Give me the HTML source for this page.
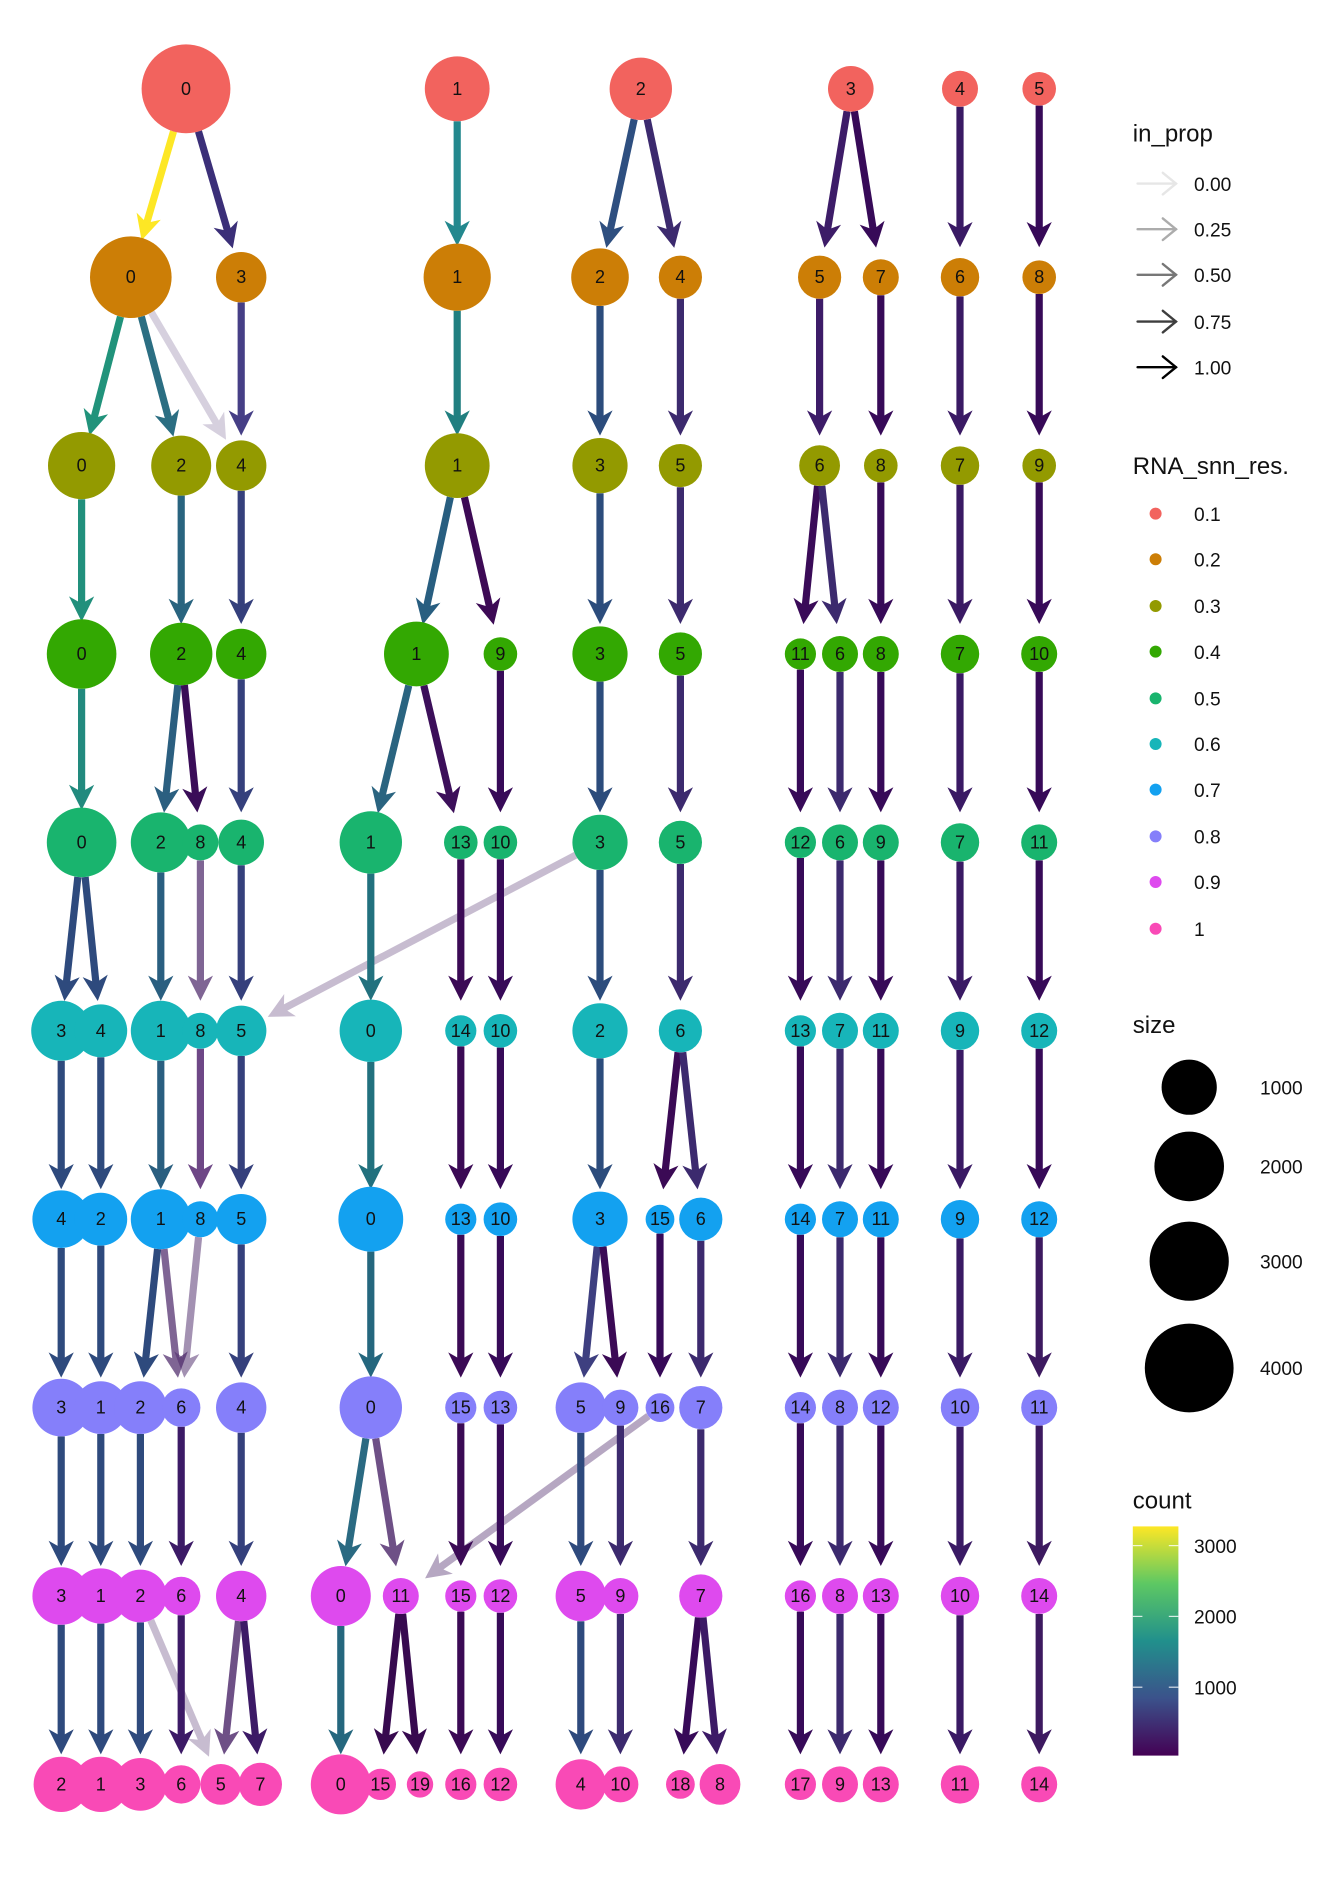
<!DOCTYPE html>
<html><head><meta charset="utf-8"><style>
html,body{margin:0;padding:0;background:#fff;}
svg{display:block;}
text{font-family:"Liberation Sans",Arial,sans-serif;}
#N text{font-size:15px;text-anchor:middle;dominant-baseline:central;fill:#111;}
.c0{fill:#F2635E}.c1{fill:#CC7E06}.c2{fill:#939A00}.c3{fill:#33A802}.c4{fill:#19B46E}
.c5{fill:#17B5B9}.c6{fill:#13A1F0}.c7{fill:#857FFA}.c8{fill:#DE4AEE}.c9{fill:#F94AB6}
.lg{font-size:16px;fill:#111;}
.lt{font-size:20px;fill:#111;}
</style></head><body>
<svg width="1344" height="1881" viewBox="0 0 1120 1567.5" xmlns="http://www.w3.org/2000/svg">
<defs>
<linearGradient id="vir" x1="0" y1="1" x2="0" y2="0">
<stop offset="0" stop-color="#440154"/><stop offset="0.25" stop-color="#3b528b"/>
<stop offset="0.5" stop-color="#21908c"/><stop offset="0.75" stop-color="#5dc863"/>
<stop offset="1" stop-color="#fde725"/></linearGradient>
</defs>
<g id="E"></g>
<g id="N">
<circle id="n0_0" class="c0" cx="155" cy="74" r="37"/><text x="155" y="74">0</text>
<circle id="n0_1" class="c0" cx="381" cy="74" r="27"/><text x="381" y="74">1</text>
<circle id="n0_2" class="c0" cx="534" cy="74" r="26"/><text x="534" y="74">2</text>
<circle id="n0_3" class="c0" cx="709" cy="74" r="19"/><text x="709" y="74">3</text>
<circle id="n0_4" class="c0" cx="800" cy="74" r="15"/><text x="800" y="74">4</text>
<circle id="n0_5" class="c0" cx="866" cy="74" r="14"/><text x="866" y="74">5</text>
<circle id="n1_0" class="c1" cx="109" cy="231" r="34"/><text x="109" y="231">0</text>
<circle id="n1_3" class="c1" cx="201" cy="231" r="21"/><text x="201" y="231">3</text>
<circle id="n1_1" class="c1" cx="381" cy="231" r="28"/><text x="381" y="231">1</text>
<circle id="n1_2" class="c1" cx="500" cy="231" r="24"/><text x="500" y="231">2</text>
<circle id="n1_4" class="c1" cx="567" cy="231" r="18"/><text x="567" y="231">4</text>
<circle id="n1_5" class="c1" cx="683" cy="231" r="18"/><text x="683" y="231">5</text>
<circle id="n1_7" class="c1" cx="734" cy="231" r="15"/><text x="734" y="231">7</text>
<circle id="n1_6" class="c1" cx="800" cy="231" r="16"/><text x="800" y="231">6</text>
<circle id="n1_8" class="c1" cx="866" cy="231" r="14"/><text x="866" y="231">8</text>
<circle id="n2_0" class="c2" cx="68" cy="388" r="28"/><text x="68" y="388">0</text>
<circle id="n2_2" class="c2" cx="151" cy="388" r="25"/><text x="151" y="388">2</text>
<circle id="n2_4" class="c2" cx="201" cy="388" r="21"/><text x="201" y="388">4</text>
<circle id="n2_1" class="c2" cx="381" cy="388" r="27"/><text x="381" y="388">1</text>
<circle id="n2_3" class="c2" cx="500" cy="388" r="23"/><text x="500" y="388">3</text>
<circle id="n2_5" class="c2" cx="567" cy="388" r="18"/><text x="567" y="388">5</text>
<circle id="n2_6" class="c2" cx="683" cy="388" r="17"/><text x="683" y="388">6</text>
<circle id="n2_8" class="c2" cx="734" cy="388" r="14"/><text x="734" y="388">8</text>
<circle id="n2_7" class="c2" cx="800" cy="388" r="16"/><text x="800" y="388">7</text>
<circle id="n2_9" class="c2" cx="866" cy="388" r="14"/><text x="866" y="388">9</text>
<circle id="n3_0" class="c3" cx="68" cy="545" r="29"/><text x="68" y="545">0</text>
<circle id="n3_2" class="c3" cx="151" cy="545" r="26"/><text x="151" y="545">2</text>
<circle id="n3_4" class="c3" cx="201" cy="545" r="21"/><text x="201" y="545">4</text>
<circle id="n3_1" class="c3" cx="347" cy="545" r="27"/><text x="347" y="545">1</text>
<circle id="n3_9" class="c3" cx="417" cy="545" r="14"/><text x="417" y="545">9</text>
<circle id="n3_3" class="c3" cx="500" cy="545" r="23"/><text x="500" y="545">3</text>
<circle id="n3_5" class="c3" cx="567" cy="545" r="18"/><text x="567" y="545">5</text>
<circle id="n3_11" class="c3" cx="667" cy="545" r="13"/><text x="667" y="545">11</text>
<circle id="n3_6" class="c3" cx="700" cy="545" r="15"/><text x="700" y="545">6</text>
<circle id="n3_8" class="c3" cx="734" cy="545" r="15"/><text x="734" y="545">8</text>
<circle id="n3_7" class="c3" cx="800" cy="545" r="16"/><text x="800" y="545">7</text>
<circle id="n3_10" class="c3" cx="866" cy="545" r="15"/><text x="866" y="545">10</text>
<circle id="n4_0" class="c4" cx="68" cy="702" r="29"/><text x="68" y="702">0</text>
<circle id="n4_2" class="c4" cx="134" cy="702" r="25"/><text x="134" y="702">2</text>
<circle id="n4_8" class="c4" cx="167" cy="702" r="15"/><text x="167" y="702">8</text>
<circle id="n4_4" class="c4" cx="201" cy="702" r="19"/><text x="201" y="702">4</text>
<circle id="n4_1" class="c4" cx="309" cy="702" r="26"/><text x="309" y="702">1</text>
<circle id="n4_13" class="c4" cx="384" cy="702" r="14"/><text x="384" y="702">13</text>
<circle id="n4_10" class="c4" cx="417" cy="702" r="14"/><text x="417" y="702">10</text>
<circle id="n4_3" class="c4" cx="500" cy="702" r="23"/><text x="500" y="702">3</text>
<circle id="n4_5" class="c4" cx="567" cy="702" r="18"/><text x="567" y="702">5</text>
<circle id="n4_12" class="c4" cx="667" cy="702" r="13"/><text x="667" y="702">12</text>
<circle id="n4_6" class="c4" cx="700" cy="702" r="15"/><text x="700" y="702">6</text>
<circle id="n4_9" class="c4" cx="734" cy="702" r="15"/><text x="734" y="702">9</text>
<circle id="n4_7" class="c4" cx="800" cy="702" r="16"/><text x="800" y="702">7</text>
<circle id="n4_11" class="c4" cx="866" cy="702" r="15"/><text x="866" y="702">11</text>
<circle id="n5_3" class="c5" cx="51" cy="859" r="25"/><text x="51" y="859">3</text>
<circle id="n5_4" class="c5" cx="84" cy="859" r="22"/><text x="84" y="859">4</text>
<circle id="n5_1" class="c5" cx="134" cy="859" r="25"/><text x="134" y="859">1</text>
<circle id="n5_8" class="c5" cx="167" cy="859" r="15"/><text x="167" y="859">8</text>
<circle id="n5_5" class="c5" cx="201" cy="859" r="21"/><text x="201" y="859">5</text>
<circle id="n5_0" class="c5" cx="309" cy="859" r="26"/><text x="309" y="859">0</text>
<circle id="n5_14" class="c5" cx="384" cy="859" r="13"/><text x="384" y="859">14</text>
<circle id="n5_10" class="c5" cx="417" cy="859" r="14"/><text x="417" y="859">10</text>
<circle id="n5_2" class="c5" cx="500" cy="859" r="23"/><text x="500" y="859">2</text>
<circle id="n5_6" class="c5" cx="567" cy="859" r="18"/><text x="567" y="859">6</text>
<circle id="n5_13" class="c5" cx="667" cy="859" r="13"/><text x="667" y="859">13</text>
<circle id="n5_7" class="c5" cx="700" cy="859" r="15"/><text x="700" y="859">7</text>
<circle id="n5_11" class="c5" cx="734" cy="859" r="15"/><text x="734" y="859">11</text>
<circle id="n5_9" class="c5" cx="800" cy="859" r="16"/><text x="800" y="859">9</text>
<circle id="n5_12" class="c5" cx="866" cy="859" r="15"/><text x="866" y="859">12</text>
<circle id="n6_4" class="c6" cx="51" cy="1016" r="24"/><text x="51" y="1016">4</text>
<circle id="n6_2" class="c6" cx="84" cy="1016" r="22"/><text x="84" y="1016">2</text>
<circle id="n6_1" class="c6" cx="134" cy="1016" r="25"/><text x="134" y="1016">1</text>
<circle id="n6_8" class="c6" cx="167" cy="1016" r="15"/><text x="167" y="1016">8</text>
<circle id="n6_5" class="c6" cx="201" cy="1016" r="21"/><text x="201" y="1016">5</text>
<circle id="n6_0" class="c6" cx="309" cy="1016" r="27"/><text x="309" y="1016">0</text>
<circle id="n6_13" class="c6" cx="384" cy="1016" r="13"/><text x="384" y="1016">13</text>
<circle id="n6_10" class="c6" cx="417" cy="1016" r="14"/><text x="417" y="1016">10</text>
<circle id="n6_3" class="c6" cx="500" cy="1016" r="23"/><text x="500" y="1016">3</text>
<circle id="n6_15" class="c6" cx="550" cy="1016" r="12"/><text x="550" y="1016">15</text>
<circle id="n6_6" class="c6" cx="584" cy="1016" r="18"/><text x="584" y="1016">6</text>
<circle id="n6_14" class="c6" cx="667" cy="1016" r="13"/><text x="667" y="1016">14</text>
<circle id="n6_7" class="c6" cx="700" cy="1016" r="15"/><text x="700" y="1016">7</text>
<circle id="n6_11" class="c6" cx="734" cy="1016" r="15"/><text x="734" y="1016">11</text>
<circle id="n6_9" class="c6" cx="800" cy="1016" r="16"/><text x="800" y="1016">9</text>
<circle id="n6_12" class="c6" cx="866" cy="1016" r="15"/><text x="866" y="1016">12</text>
<circle id="n7_3" class="c7" cx="51" cy="1173" r="24"/><text x="51" y="1173">3</text>
<circle id="n7_1" class="c7" cx="84" cy="1173" r="22"/><text x="84" y="1173">1</text>
<circle id="n7_2" class="c7" cx="117" cy="1173" r="22"/><text x="117" y="1173">2</text>
<circle id="n7_6" class="c7" cx="151" cy="1173" r="16"/><text x="151" y="1173">6</text>
<circle id="n7_4" class="c7" cx="201" cy="1173" r="21"/><text x="201" y="1173">4</text>
<circle id="n7_0" class="c7" cx="309" cy="1173" r="26"/><text x="309" y="1173">0</text>
<circle id="n7_15" class="c7" cx="384" cy="1173" r="13"/><text x="384" y="1173">15</text>
<circle id="n7_13" class="c7" cx="417" cy="1173" r="14"/><text x="417" y="1173">13</text>
<circle id="n7_5" class="c7" cx="484" cy="1173" r="21"/><text x="484" y="1173">5</text>
<circle id="n7_9" class="c7" cx="517" cy="1173" r="15"/><text x="517" y="1173">9</text>
<circle id="n7_16" class="c7" cx="550" cy="1173" r="12"/><text x="550" y="1173">16</text>
<circle id="n7_7" class="c7" cx="584" cy="1173" r="18"/><text x="584" y="1173">7</text>
<circle id="n7_14" class="c7" cx="667" cy="1173" r="13"/><text x="667" y="1173">14</text>
<circle id="n7_8" class="c7" cx="700" cy="1173" r="15"/><text x="700" y="1173">8</text>
<circle id="n7_12" class="c7" cx="734" cy="1173" r="15"/><text x="734" y="1173">12</text>
<circle id="n7_10" class="c7" cx="800" cy="1173" r="16"/><text x="800" y="1173">10</text>
<circle id="n7_11" class="c7" cx="866" cy="1173" r="15"/><text x="866" y="1173">11</text>
<circle id="n8_3" class="c8" cx="51" cy="1330" r="24"/><text x="51" y="1330">3</text>
<circle id="n8_1" class="c8" cx="84" cy="1330" r="23"/><text x="84" y="1330">1</text>
<circle id="n8_2" class="c8" cx="117" cy="1330" r="22"/><text x="117" y="1330">2</text>
<circle id="n8_6" class="c8" cx="151" cy="1330" r="16"/><text x="151" y="1330">6</text>
<circle id="n8_4" class="c8" cx="201" cy="1330" r="21"/><text x="201" y="1330">4</text>
<circle id="n8_0" class="c8" cx="284" cy="1330" r="25"/><text x="284" y="1330">0</text>
<circle id="n8_11" class="c8" cx="334" cy="1330" r="15"/><text x="334" y="1330">11</text>
<circle id="n8_15" class="c8" cx="384" cy="1330" r="13"/><text x="384" y="1330">15</text>
<circle id="n8_12" class="c8" cx="417" cy="1330" r="14"/><text x="417" y="1330">12</text>
<circle id="n8_5" class="c8" cx="484" cy="1330" r="21"/><text x="484" y="1330">5</text>
<circle id="n8_9" class="c8" cx="517" cy="1330" r="15"/><text x="517" y="1330">9</text>
<circle id="n8_7" class="c8" cx="584" cy="1330" r="18"/><text x="584" y="1330">7</text>
<circle id="n8_16" class="c8" cx="667" cy="1330" r="13"/><text x="667" y="1330">16</text>
<circle id="n8_8" class="c8" cx="700" cy="1330" r="15"/><text x="700" y="1330">8</text>
<circle id="n8_13" class="c8" cx="734" cy="1330" r="15"/><text x="734" y="1330">13</text>
<circle id="n8_10" class="c8" cx="800" cy="1330" r="16"/><text x="800" y="1330">10</text>
<circle id="n8_14" class="c8" cx="866" cy="1330" r="15"/><text x="866" y="1330">14</text>
<circle id="n9_2" class="c9" cx="51" cy="1487" r="23"/><text x="51" y="1487">2</text>
<circle id="n9_1" class="c9" cx="84" cy="1487" r="23"/><text x="84" y="1487">1</text>
<circle id="n9_3" class="c9" cx="117" cy="1487" r="22"/><text x="117" y="1487">3</text>
<circle id="n9_6" class="c9" cx="151" cy="1487" r="16"/><text x="151" y="1487">6</text>
<circle id="n9_5" class="c9" cx="184" cy="1487" r="17"/><text x="184" y="1487">5</text>
<circle id="n9_7" class="c9" cx="217" cy="1487" r="18"/><text x="217" y="1487">7</text>
<circle id="n9_0" class="c9" cx="284" cy="1487" r="25"/><text x="284" y="1487">0</text>
<circle id="n9_15" class="c9" cx="317" cy="1487" r="13"/><text x="317" y="1487">15</text>
<circle id="n9_19" class="c9" cx="350" cy="1487" r="11"/><text x="350" y="1487">19</text>
<circle id="n9_16" class="c9" cx="384" cy="1487" r="13"/><text x="384" y="1487">16</text>
<circle id="n9_12" class="c9" cx="417" cy="1487" r="14"/><text x="417" y="1487">12</text>
<circle id="n9_4" class="c9" cx="484" cy="1487" r="21"/><text x="484" y="1487">4</text>
<circle id="n9_10" class="c9" cx="517" cy="1487" r="15"/><text x="517" y="1487">10</text>
<circle id="n9_18" class="c9" cx="567" cy="1487" r="12"/><text x="567" y="1487">18</text>
<circle id="n9_8" class="c9" cx="600" cy="1487" r="17"/><text x="600" y="1487">8</text>
<circle id="n9_17" class="c9" cx="667" cy="1487" r="13"/><text x="667" y="1487">17</text>
<circle id="n9_9" class="c9" cx="700" cy="1487" r="15"/><text x="700" y="1487">9</text>
<circle id="n9_13" class="c9" cx="734" cy="1487" r="15"/><text x="734" y="1487">13</text>
<circle id="n9_11" class="c9" cx="800" cy="1487" r="16"/><text x="800" y="1487">11</text>
<circle id="n9_14" class="c9" cx="866" cy="1487" r="15"/><text x="866" y="1487">14</text>
</g>
<g>
<text class="lt" x="944" y="118">in_prop</text>
<g stroke-width="2" fill="none" stroke-linecap="round">
<g stroke="#e6e6e6"><line x1="948" y1="153" x2="980" y2="153"/><polyline points="969,144 980,153 969,162"/></g>
<g stroke="#acacac"><line x1="948" y1="191" x2="980" y2="191"/><polyline points="969,182 980,191 969,200"/></g>
<g stroke="#777"><line x1="948" y1="229" x2="980" y2="229"/><polyline points="969,220 980,229 969,238"/></g>
<g stroke="#3e3e3e"><line x1="948" y1="268" x2="980" y2="268"/><polyline points="969,259 980,268 969,277"/></g>
<g stroke="#000"><line x1="948" y1="306" x2="980" y2="306"/><polyline points="969,297 980,306 969,315"/></g>
</g>
<text class="lg" x="995" y="159">0.00</text><text class="lg" x="995" y="197">0.25</text>
<text class="lg" x="995" y="235">0.50</text><text class="lg" x="995" y="274">0.75</text>
<text class="lg" x="995" y="312">1.00</text>
<text class="lt" x="944" y="395">RNA_snn_res.</text>
<circle cx="963" cy="428" r="5" class="c0"/><text class="lg" x="995" y="434">0.1</text>
<circle cx="963" cy="466" r="5" class="c1"/><text class="lg" x="995" y="472">0.2</text>
<circle cx="963" cy="505" r="5" class="c2"/><text class="lg" x="995" y="511">0.3</text>
<circle cx="963" cy="543" r="5" class="c3"/><text class="lg" x="995" y="549">0.4</text>
<circle cx="963" cy="582" r="5" class="c4"/><text class="lg" x="995" y="588">0.5</text>
<circle cx="963" cy="620" r="5" class="c5"/><text class="lg" x="995" y="626">0.6</text>
<circle cx="963" cy="658" r="5" class="c6"/><text class="lg" x="995" y="664">0.7</text>
<circle cx="963" cy="697" r="5" class="c7"/><text class="lg" x="995" y="703">0.8</text>
<circle cx="963" cy="735" r="5" class="c8"/><text class="lg" x="995" y="741">0.9</text>
<circle cx="963" cy="774" r="5" class="c9"/><text class="lg" x="995" y="780">1</text>
<text class="lt" x="944" y="861">size</text>
<circle cx="991" cy="906" r="23" fill="#000"/><text class="lg" x="1050" y="912">1000</text>
<circle cx="991" cy="972" r="29" fill="#000"/><text class="lg" x="1050" y="978">2000</text>
<circle cx="991" cy="1051" r="33" fill="#000"/><text class="lg" x="1050" y="1057">3000</text>
<circle cx="991" cy="1140" r="37" fill="#000"/><text class="lg" x="1050" y="1146">4000</text>
<text class="lt" x="944" y="1257">count</text>
<rect x="944" y="1272" width="38" height="191" fill="url(#vir)"/>
<g stroke="#fff" stroke-width="1" opacity="0.8">
<line x1="944" y1="1288" x2="952" y2="1288"/><line x1="974" y1="1288" x2="982" y2="1288"/>
<line x1="944" y1="1347" x2="952" y2="1347"/><line x1="974" y1="1347" x2="982" y2="1347"/>
<line x1="944" y1="1406" x2="952" y2="1406"/><line x1="974" y1="1406" x2="982" y2="1406"/>
</g>
<text class="lg" x="995" y="1294">3000</text>
<text class="lg" x="995" y="1353">2000</text>
<text class="lg" x="995" y="1412">1000</text>
</g>
</svg>
<script>
(function(){
var E=[
[0,'0','0','#fde725'],[0,'0','3','#3b2f78'],[0,'1','1','#23888e'],[0,'2','2','#2e4f80'],[0,'2','4','#3c2a6e'],[0,'3','5','#3d1c68'],[0,'3','7','#370a58'],[0,'4','6','#3a1a64'],[0,'5','8','#370a58'],
[1,'0','0','#21937b'],[1,'0','2','#2b6e82'],[1,'0','4','#4a2d6e',0.22],[1,'3','4','#463f86'],[1,'1','1','#217f80'],[1,'2','3','#2c4c7c'],[1,'4','5','#3c2a6e'],[1,'5','6','#3d1c68'],[1,'7','8','#370a58'],[1,'6','7','#3a1a64'],[1,'8','9','#370a58'],
[2,'0','0','#21907c'],[2,'2','2','#29647f'],[2,'4','4','#35407c'],[2,'1','1','#285e80'],[2,'1','9','#3d0a55'],[2,'3','3','#2c4c7c'],[2,'5','5','#3c2a6e'],[2,'6','11','#3a0b58'],[2,'6','6','#3c2a6e'],[2,'8','8','#370a58'],[2,'7','7','#3a1a64'],[2,'9','10','#370a58'],
[3,'0','0','#228a7e'],[3,'2','2','#2b5f80'],[3,'2','8','#3a0d58'],[3,'4','4','#35407c'],[3,'1','1','#2a6480'],[3,'1','13','#3c0f5a'],[3,'9','10','#370a58'],[3,'3','3','#2c4c7c'],[3,'5','5','#3c2a6e'],[3,'11','12','#370a58'],[3,'6','6','#3c2a6e'],[3,'8','9','#370a58'],[3,'7','7','#3a1a64'],[3,'10','11','#370a58'],
[4,'0','3','#2e4a7d'],[4,'0','4','#2e4a7d'],[4,'2','1','#2a5f80'],[4,'8','8','#4a2568',0.7],[4,'4','5','#35407c'],[4,'3','5','#4a2568',0.3],[4,'1','0','#22717e'],[4,'13','14','#3b0a55'],[4,'10','10','#370a58'],[4,'3','2','#2c4c7c'],[4,'5','6','#3c2a6e'],[4,'12','13','#370a58'],[4,'6','7','#3c2a6e'],[4,'9','11','#370a58'],[4,'7','9','#3a1a64'],[4,'11','12','#370a58'],
[5,'3','4','#2e4a7d'],[5,'4','2','#2e4a7d'],[5,'1','1','#2a5f80'],[5,'8','8','#4a1a68',0.8],[5,'5','5','#35407c'],[5,'0','0','#22717e'],[5,'14','13','#3b0a55'],[5,'10','10','#370a58'],[5,'2','3','#2c4c7c'],[5,'6','15','#3b0a55'],[5,'6','6','#3c2a6e'],[5,'13','14','#370a58'],[5,'7','7','#3c2a6e'],[5,'11','11','#370a58'],[5,'9','9','#3a1a64'],[5,'12','12','#370a58'],
[6,'4','3','#2e4a7d'],[6,'2','1','#2e4a7d'],[6,'1','2','#2e4a7d'],[6,'1','6','#4a2568',0.7],[6,'8','6','#4a2568',0.5],[6,'5','4','#35407c'],[6,'0','0','#25677e'],[6,'13','15','#3b0a55'],[6,'10','13','#370a58'],[6,'3','5','#3e3f80'],[6,'3','9','#3b0a55'],[6,'15','16','#370a58'],[6,'6','7','#3c2a6e'],[6,'14','14','#370a58'],[6,'7','8','#3c2a6e'],[6,'11','12','#370a58'],[6,'9','10','#3a1a64'],[6,'12','11','#3d1a60'],
[7,'3','3','#2e4a7d'],[7,'1','1','#2e4a7d'],[7,'2','2','#2e4a7d'],[7,'6','6','#3c1a66'],[7,'4','4','#35407c'],[7,'0','0','#2a6a82'],[7,'0','11','#4a2568',0.8],[7,'16','11','#4a2568',0.4],[7,'15','15','#3b0a55'],[7,'13','12','#370a58'],[7,'5','5','#2e4a7d'],[7,'9','9','#3c2a6e'],[7,'7','7','#3c2a6e'],[7,'14','16','#370a58'],[7,'8','8','#3c2a6e'],[7,'12','13','#370a58'],[7,'10','10','#3a1a64'],[7,'11','14','#3d1a60'],
[8,'3','2','#2e4a7d'],[8,'1','1','#2e4a7d'],[8,'2','3','#2e4a7d'],[8,'2','5','#4a2568',0.3],[8,'6','6','#3c1a66'],[8,'4','5','#4a2568',0.8],[8,'4','7','#3c1a66'],[8,'0','0','#25677e'],[8,'11','15','#370a4f'],[8,'11','19','#370a4f'],[8,'15','16','#3b0a55'],[8,'12','12','#370a58'],[8,'5','4','#2e4a7d'],[8,'9','10','#3c2a6e'],[8,'7','18','#370a58'],[8,'7','8','#3c1a66'],[8,'16','17','#370a58'],[8,'8','9','#3c2a6e'],[8,'13','13','#370a58'],[8,'10','11','#3a1a64'],[8,'14','14','#3d1a60']
];
var NS='http://www.w3.org/2000/svg',g=document.getElementById('E');
function nd(id){var c=document.getElementById(id);return {x:+c.getAttribute('cx'),y:+c.getAttribute('cy'),r:+c.getAttribute('r')};}
E.forEach(function(e){
 var p=nd('n'+e[0]+'_'+e[1]),c=nd('n'+(e[0]+1)+'_'+e[2]);
 var dx=c.x-p.x,dy=c.y-p.y,L=Math.sqrt(dx*dx+dy*dy),ux=dx/L,uy=dy/L,nx=-uy,ny=ux;
 var sx=p.x+ux*p.r,sy=p.y+uy*p.r;
 var d=Math.max(25,c.r-2),tx=c.x-ux*d,ty=c.y-uy*d;
 var AL=21,AW=10.5;
 var bx=tx-ux*AL,by=ty-uy*AL;
 var gg=document.createElementNS(NS,'g');
 gg.setAttribute('opacity',e[4]==null?1:e[4]);
 var ln=document.createElementNS(NS,'line');
 ln.setAttribute('x1',sx);ln.setAttribute('y1',sy);
 ln.setAttribute('x2',tx-ux*8);ln.setAttribute('y2',ty-uy*8);
 ln.setAttribute('stroke',e[3]);ln.setAttribute('stroke-width',6);
 gg.appendChild(ln);
 var pg=document.createElementNS(NS,'polygon');
 var mx=tx-ux*AL*0.72,my=ty-uy*AL*0.72;
 pg.setAttribute('points',[tx,ty,bx+nx*AW,by+ny*AW,mx,my,bx-nx*AW,by-ny*AW].join(' '));
 pg.setAttribute('fill',e[3]);
 gg.appendChild(pg);
 g.appendChild(gg);
});
})();
</script>
</body></html>
